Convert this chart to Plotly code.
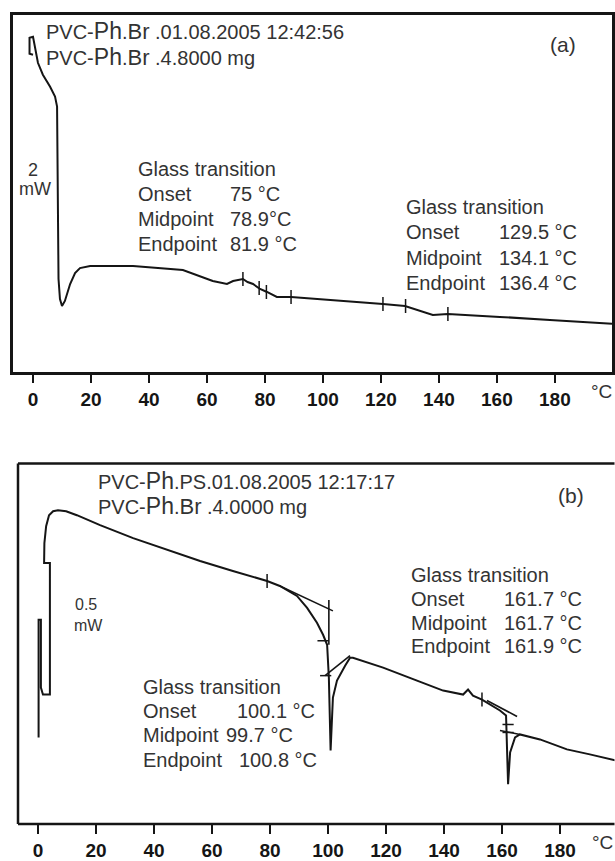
import plotly.graph_objects as go

W, H = 615, 861

# ---------------- data ----------------
# Panel (a): DSC curve, temperature (°C) vs heat flow (arbitrary units, endo down)
temp_a = [0.0, -1.2, -1.2, 0.0, 1.7, 3.4, 5.9, 7.6, 8.3, 8.4, 8.6, 8.8, 9.3, 10.0,
          11.0, 12.8, 14.5, 16.2, 19.7, 34.5, 51.7, 57.6, 62.0, 66.9, 69.0, 72.4,
          74.0, 75.9, 78.3, 80.7, 84.1, 89.0, 99.0, 120.7, 128.3, 133.4, 137.9,
          143.1, 150.7, 161.0, 178.3, 199.7]
heat_a = [31.8, 31.9, 33.5, 33.6, 31.0, 29.8, 28.6, 27.6, 26.6, 24.0, 17.3, 9.3, 7.3, 6.6,
          7.1, 8.8, 9.9, 10.4, 10.6, 10.6, 10.2, 9.6, 9.1, 8.8, 9.1, 9.3,
          9.0, 8.8, 8.3, 8.0, 7.5, 7.5, 7.3, 6.8, 6.6, 6.1, 5.7,
          5.8, 5.7, 5.5, 5.2, 4.8]
# Panel (a): onset / midpoint / endpoint tick marks
mark_a_T = [72.4, 78.0, 80.5, 89.0, 120.7, 128.5, 143.1]
mark_a_v = [9.3, 8.4, 8.0, 7.5, 6.8, 6.6, 5.8]

# Panel (b): DSC curve
temp_b = [0.2, 0.2, 1.0, 1.0, 1.7, 4.1, 4.1, 2.1, 2.2, 2.8, 3.8, 5.2, 6.9, 9.7, 13.4,
          17.9, 21.4, 32.8, 44.5, 55.9, 67.2, 79.0, 83.4, 89.3, 92.8, 96.2, 98.3,
          99.7, 100.3, 100.9, 101.7, 103.1, 105.9, 107.6, 108.6, 119.0, 130.7,
          139.7, 146.6, 148.3, 150.0, 153.1, 159.3, 161.4, 162.1, 162.8, 164.5,
          166.2, 173.1, 182.4, 190.3, 199.0]
heat_b = [8.7, 20.5, 20.5, 13.7, 13.0, 13.0, 26.2, 26.2, 28.2, 29.9, 31.0, 31.4, 31.5, 31.4, 31.0,
          30.4, 30.0, 28.7, 27.5, 26.4, 25.4, 24.4, 23.9, 22.9, 21.7, 20.2, 19.0,
          18.0, 14.7, 7.4, 12.7, 14.4, 15.9, 16.7, 16.7, 15.7, 14.4,
          13.4, 13.0, 13.5, 12.9, 12.5, 11.4, 10.9, 4.0, 7.2, 8.7,
          9.0, 8.5, 7.5, 7.0, 6.4]
# Panel (b): tangent construction lines (pairs of points)
tan_b_T = [[83.4, 101.7], [99.0, 107.6], [100.3, 100.3], [154.8, 165.2], [159.3, 166.2]]
tan_b_v = [[23.9, 21.4], [14.9, 16.9], [22.5, 18.0], [12.4, 10.8], [9.4, 9.0]]
# Panel (b): tick marks
mark_b_T = [79.0, 153.1]
mark_b_v = [24.4, 12.5]
markh_b_T = [98.3, 99.2, 162.1, 162.1]
markh_b_v = [18.4, 14.9, 10.0, 9.2]

x_ticks = [0, 20, 40, 60, 80, 100, 120, 140, 160, 180]

# Annotation texts
header_a = ["PVC-Ph.Br .01.08.2005 12:42:56", "PVC-Ph.Br .4.8000 mg"]
header_b = ["PVC-Ph.PS.01.08.2005 12:17:17", "PVC-Ph.Br .4.0000 mg"]
gt_labels = ["Glass transition", "Onset", "Midpoint", "Endpoint"]
gt_a1_vals = ["75 °C", "78.9°C", "81.9 °C"]
gt_a2_vals = ["129.5 °C", "134.1 °C", "136.4 °C"]
gt_b1_vals = ["100.1 °C", "99.7 °C", "100.8 °C"]
gt_b2_vals = ["161.7 °C", "161.7 °C", "161.9 °C"]

# ---------------- figure ----------------
FONT = "Liberation Sans"
INK = "#151515"
TXT = "#333333"


def px(x):
    return x / W


def py(y):
    return 1 - y / H


fig = go.Figure()

line_style = dict(color=INK, width=2)
fig.add_trace(go.Scatter(x=temp_a, y=heat_a, mode="lines", line=line_style,
                         xaxis="x", yaxis="y", showlegend=False))
fig.add_trace(go.Scatter(x=mark_a_T, y=mark_a_v, mode="markers",
                         marker=dict(symbol="line-ns", size=10, line=dict(color=INK, width=1.5)),
                         xaxis="x", yaxis="y", showlegend=False))

fig.add_trace(go.Scatter(x=temp_b, y=heat_b, mode="lines", line=line_style,
                         xaxis="x2", yaxis="y2", showlegend=False))
for tt, vv in zip(tan_b_T, tan_b_v):
    fig.add_trace(go.Scatter(x=tt, y=vv, mode="lines", line=dict(color=INK, width=1.6),
                             xaxis="x2", yaxis="y2", showlegend=False))
fig.add_trace(go.Scatter(x=mark_b_T, y=mark_b_v, mode="markers",
                         marker=dict(symbol="line-ns", size=10, line=dict(color=INK, width=1.5)),
                         xaxis="x2", yaxis="y2", showlegend=False))
fig.add_trace(go.Scatter(x=markh_b_T, y=markh_b_v, mode="markers",
                         marker=dict(symbol="line-ew", size=8, line=dict(color=INK, width=1.5)),
                         xaxis="x2", yaxis="y2", showlegend=False))

tickfont = dict(family=FONT, size=19, color=INK, weight="bold")
xcommon = dict(tickmode="array", tickvals=x_ticks, ticks="outside", ticklen=9,
               tickwidth=2, tickcolor=INK, tickfont=tickfont, showgrid=False,
               zeroline=False, linewidth=2.5, linecolor=INK)
ycommon = dict(showticklabels=False, ticks="", showgrid=False, zeroline=False,
               linewidth=2.5, linecolor=INK)

XR = 614.5  # right edge of panel (b) plotting area, px

fig.update_layout(
    width=W, height=H, margin=dict(l=0, r=0, t=0, b=0),
    paper_bgcolor="white", plot_bgcolor="white",
    xaxis=dict(domain=[px(13), px(612)], range=[-6.9, 199.7], anchor="y", mirror=True,
               showline=True, **xcommon),
    yaxis=dict(domain=[py(373), py(15)], range=[0, 35.8], anchor="x", mirror=True,
               showline=True, **ycommon),
    xaxis2=dict(domain=[px(18), px(XR)], range=[-6.9, 198.8], anchor="y2",
                showline=False, **xcommon),
    yaxis2=dict(domain=[py(827), py(465)], range=[0, 36.2], anchor="x2",
                showline=False, **ycommon),
)

# frame of panel (b): left, top and bottom only (right border lies outside the picture)
frame = dict(type="line", xref="paper", yref="paper", line=dict(color=INK, width=2.5))
fig.add_shape(x0=px(18), x1=px(XR), y0=py(465), y1=py(465), **frame)
fig.add_shape(x0=px(18), x1=px(XR), y0=py(827), y1=py(827), **frame)
fig.add_shape(x0=px(18), x1=px(18), y0=py(827), y1=py(465), **frame)

ann = []


def txt(x, y, s, size=20, anchor="left"):
    ann.append(dict(x=px(x), y=py(y), xref="paper", yref="paper", text=s, showarrow=False,
                    xanchor=anchor, yanchor="middle",
                    font=dict(family=FONT, size=size, color=TXT)))


def styled(s):
    return s.replace("Ph.", "<span style='font-size:23px'>Ph</span>.").replace(
        "Br ", "<span style='font-size:22px'>Br</span> ")


# panel (a)
txt(44, 31, styled(header_a[0]))
txt(44, 57, styled(header_a[1]))
txt(563, 45, "(a)", size=21, anchor="center")
txt(33, 171, "2", size=18, anchor="center")
txt(35, 190, "mW", size=18, anchor="center")
for i, (lab, y) in enumerate(zip(gt_labels, [170, 195, 220, 245])):
    txt(136, y, lab)
    if i > 0:
        txt(228, y, gt_a1_vals[i - 1])
for i, (lab, y) in enumerate(zip(gt_labels, [208, 233, 259, 284])):
    txt(404, y, lab)
    if i > 0:
        txt(497, y, gt_a2_vals[i - 1])
txt(601, 393, "°C", size=19, anchor="center")

# panel (b)
txt(96, 483, styled(header_b[0]))
txt(96, 508, styled(header_b[1]))
txt(571, 497, "(b)", size=21, anchor="center")
txt(86, 607, "0.5", size=16, anchor="center")
txt(88, 628, "mW", size=16, anchor="center")
for i, (lab, y) in enumerate(zip(gt_labels, [577, 601, 625, 648])):
    txt(409, y, lab)
    if i > 0:
        txt(502, y, gt_b2_vals[i - 1])
b1_x = [235, 224, 237]
for i, (lab, y) in enumerate(zip(gt_labels, [689, 713, 738, 763])):
    txt(141, y, lab)
    if i > 0:
        txt(b1_x[i - 1], y, gt_b1_vals[i - 1])
txt(602, 845, "°C", size=19, anchor="center")

fig.update_layout(annotations=ann)

fig.write_html("out.html")
